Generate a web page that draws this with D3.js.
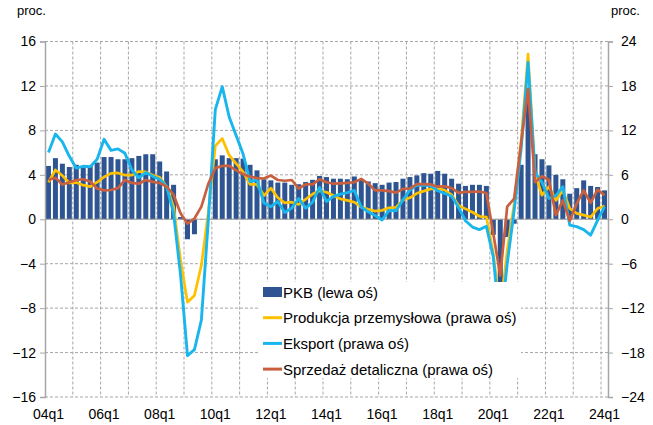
<!DOCTYPE html>
<html>
<head>
<meta charset="utf-8">
<script src="https://cdn.jsdelivr.net/npm/d3@7"></script>
<style>
  body { margin: 0; background: #fff; }
  text { font-family: "Liberation Sans", Arial, sans-serif; fill: #000; }
</style>
</head>
<body>
<svg id="chart" width="653" height="425"></svg>
<script>
// quarters 04q1 .. 24q1
var years = ['04','05','06','07','08','09','10','11','12','13','14','15','16','17','18','19','20','21','22','23','24'];
var categories = [];
years.forEach(function(y){ ['q1','q2','q3','q4'].forEach(function(q){ categories.push(y + q); }); });
categories = categories.slice(0, 81);

var tickLabels = ['04q1','06q1','08q1','10q1','12q1','14q1','16q1','18q1','20q1','22q1','24q1'];
var leftTicks = [-16,-12,-8,-4,0,4,8,12,16];
var rightTicks = [-24,-18,-12,-6,0,6,12,18,24];

// PKB (lewa oś)
var pkb = [4.8,5.5,5.0,4.7,4.9,4.8,4.8,5.1,5.6,5.6,5.4,5.4,5.5,5.7,5.85,5.85,
  5.2,4.3,3.1,0.2,-1.8,-1.35,0.0,0.0,5.4,5.75,5.5,5.5,5.45,4.9,4.4,3.6,
  3.5,3.3,3.3,3.1,3.15,3.35,3.55,3.9,3.8,3.65,3.65,3.6,3.85,3.55,3.4,3.25,
  3.1,3.3,3.35,3.65,3.8,3.95,4.15,4.1,4.35,4.1,3.65,3.2,3.0,3.1,3.1,3.0,
  -1.4,-8.0,-1.6,-0.4,4.9,11.5,5.85,5.4,4.85,4.0,3.6,2.3,2.8,3.5,3.0,2.9,2.6];

// Produkcja przemysłowa (prawa oś)
var produkcja = [5.0,6.65,5.9,4.9,4.95,4.6,4.4,5.0,5.7,6.2,6.25,5.95,5.95,6.45,6.4,5.95,
  5.65,4.4,1.7,-5.5,-11.2,-10.3,-6.2,1.0,9.9,10.9,8.65,7.5,6.4,4.7,4.7,3.2,
  4.2,2.9,2.2,2.3,2.0,2.7,3.4,3.85,3.65,3.2,2.75,2.55,2.3,1.65,1.35,1.1,
  1.2,1.55,1.6,2.6,2.9,3.5,3.8,4.1,4.1,3.95,3.3,1.85,1.4,0.95,0.4,0.3,
  -4.6,-12.5,-4.2,2.1,10.5,22.3,6.2,3.25,4.4,2.55,3.9,1.45,0.8,0.55,0.3,1.45,1.8];

// Eksport (prawa oś)
var eksport = [9.0,11.5,10.45,8.5,6.9,7.15,7.1,8.1,10.8,9.3,9.5,8.9,6.65,5.6,6.3,5.8,
  5.4,4.4,0.8,-7.5,-18.4,-17.6,-13.6,-0.1,14.8,17.9,13.8,11.3,8.8,5.1,5.3,2.2,
  1.7,2.4,0.9,1.5,2.8,1.5,2.3,4.3,2.4,3.1,3.4,3.6,3.9,1.65,1.0,0.5,
  -0.1,1.2,1.15,2.6,3.95,4.6,4.6,4.5,3.85,3.5,3.1,1.6,-0.2,-1.05,-1.4,-0.95,
  -5.1,-14.8,-6.0,1.2,9.5,21.2,6.3,5.0,2.8,3.2,4.4,-0.8,-1.0,-1.4,-2.15,-0.15,1.7];

// Sprzedaż detaliczna (prawa oś)
var sprzedaz = [5.3,5.6,4.7,5.0,5.3,5.4,5.1,4.15,3.9,3.95,4.2,5.3,4.9,4.8,5.3,5.05,
  4.9,4.4,3.3,0.8,-0.6,0.1,1.7,4.8,6.9,7.2,7.2,6.6,6.1,5.75,5.55,5.5,
  5.9,5.3,5.2,5.3,4.15,4.7,4.7,5.4,5.0,4.8,4.85,4.9,5.0,5.45,4.8,3.9,
  3.9,3.8,3.6,4.1,4.15,4.75,4.75,4.7,4.4,4.45,4.2,3.55,3.7,3.7,3.75,3.55,
  -1.95,-7.6,1.7,2.8,10.3,17.6,5.0,5.8,5.3,0.55,2.55,-0.2,2.1,3.9,2.2,4.0,3.25];

var lineSeries = [
  {name: 'Produkcja przemysłowa (prawa oś)', values: produkcja, color: '#FFC000', width: 2.7},
  {name: 'Eksport (prawa oś)', values: eksport, color: '#18B6EC', width: 2.9},
  {name: 'Sprzedaż detaliczna (prawa oś)', values: sprzedaz, color: '#C8603F', width: 2.7}
];
var barColor = '#2E5591';
var gridColor = '#A6A6A6';

var svg = d3.select('#chart');
var pLeft = 45, pRight = 608, pTop = 41.5, pBottom = 397;

var x = d3.scaleBand().domain(categories).range([pLeft, pRight]).paddingInner(0.28).paddingOuter(0.14);
var yL = d3.scaleLinear().domain([-16, 16]).range([pBottom, pTop]);
var yR = d3.scaleLinear().domain([-24, 24]).range([pBottom, pTop]);
var half = (x.step() - x.bandwidth()) / 2;

//Grid lines
var grid = svg.append('g');
grid.selectAll('line.h').data(leftTicks).enter().append('line')
  .attr('x1', pLeft).attr('x2', pRight)
  .attr('y1', function(d){ return yL(d); }).attr('y2', function(d){ return yL(d); })
  .attr('stroke', gridColor).attr('stroke-width', 1).attr('stroke-dasharray', '3,2');

var vcats = categories.filter(function(c, i){ return i > 0 && i % 4 == 0; });
grid.selectAll('line.v').data(vcats).enter().append('line')
  .attr('x1', function(d){ return x(d) - half; }).attr('x2', function(d){ return x(d) - half; })
  .attr('y1', pTop).attr('y2', pBottom)
  .attr('stroke', gridColor).attr('stroke-width', 1).attr('stroke-dasharray', '3,2');

//Bars
svg.append('g').selectAll('rect').data(pkb).enter().append('rect')
  .attr('x', function(d, i){ return x(categories[i]); })
  .attr('width', x.bandwidth())
  .attr('y', function(d){ return yL(Math.max(0, d)); })
  .attr('height', function(d){ return Math.abs(yL(d) - yL(0)); })
  .attr('fill', barColor);

//Zero line
svg.append('line').attr('x1', pLeft).attr('x2', pRight).attr('y1', yL(0)).attr('y2', yL(0))
  .attr('stroke', '#A6A6A6').attr('stroke-width', 1.2);

//Axes
var axL = svg.append('g').attr('transform', 'translate(' + pLeft + ',0)')
  .call(d3.axisLeft(yL).tickValues(leftTicks).tickSize(5).tickPadding(4));
var axR = svg.append('g').attr('transform', 'translate(' + pRight + ',0)')
  .call(d3.axisRight(yR).tickValues(rightTicks).tickSize(5).tickPadding(8));
[axL, axR].forEach(function(ax){
  ax.select('.domain').attr('stroke', '#A6A6A6').attr('stroke-width', 1.5);
  ax.selectAll('.tick line').attr('stroke', '#A6A6A6');
  ax.selectAll('.tick text').style('font-size', '14px').attr('fill', '#000');
});

//Category labels
svg.append('g').selectAll('text').data(tickLabels).enter().append('text')
  .attr('x', function(d){ return x(d) + x.bandwidth() / 2; })
  .attr('y', 419)
  .attr('text-anchor', 'middle')
  .style('font-size', '14px')
  .text(function(d){ return d; });

//Lines
var line = d3.line()
  .x(function(d, i){ return x(categories[i]) + x.bandwidth() / 2; })
  .y(function(d){ return yR(d); });
lineSeries.forEach(function(s){
  svg.append('path').datum(s.values)
    .attr('d', line)
    .attr('fill', 'none')
    .attr('stroke', s.color)
    .attr('stroke-width', s.width)
    .attr('stroke-linejoin', 'round');
});

//Units
svg.append('text').attr('x', 17).attr('y', 15).style('font-size', '13px').text('proc.');
svg.append('text').attr('x', 611).attr('y', 15).style('font-size', '13px').text('proc.');

//Legend
var lg = svg.append('g');
lg.append('rect').attr('x', 259).attr('y', 282).attr('width', 262).attr('height', 96).attr('fill', '#fff');
var items = [{name: 'PKB (lewa oś)', color: barColor, bar: true}].concat(lineSeries);
items.forEach(function(d, i){
  var cy = 292 + i * 25.7;
  if(d.bar) lg.append('rect').attr('x', 263).attr('y', cy - 5).attr('width', 19).attr('height', 10).attr('fill', d.color);
  else lg.append('line').attr('x1', 263).attr('x2', 282).attr('y1', cy).attr('y2', cy)
    .attr('stroke', d.color).attr('stroke-width', 3);
  lg.append('text').attr('x', 283).attr('y', cy + 5.5).style('font-size', '15px').text(d.name);
});
</script>
</body>
</html>
